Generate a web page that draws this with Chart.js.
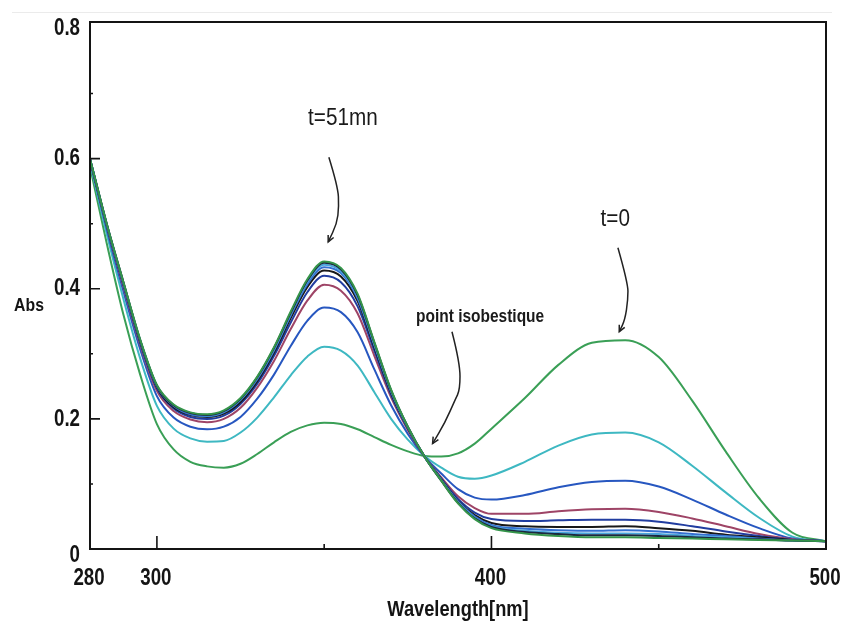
<!DOCTYPE html>
<html>
<head>
<meta charset="utf-8">
<script src="https://cdn.jsdelivr.net/npm/chart.js@4.4.1/dist/chart.umd.min.js"></script>
<style>
  html, body { margin: 0; padding: 0; background: #ffffff; }
  #wrap { position: relative; width: 842px; height: 626px; }
</style>
</head>
<body>
<div id="wrap"><canvas id="spectra" width="842" height="626"></canvas></div>
<script>
// Wavelength grid (nm)
const WAVELENGTH = [280,285,290,295,300,305,310,315,320,325,330,335,340,345,350,355,360,365,370,375,380,385,390,395,400,410,420,430,440,450,460,470,480,490,500];

// Absorbance spectra recorded during the reaction, from t = 0 to t = 51 mn
const ABS_SCAN_01 = [0.588,0.470,0.360,0.268,0.192,0.153,0.134,0.127,0.125,0.131,0.146,0.164,0.180,0.190,0.194,0.192,0.184,0.172,0.160,0.150,0.143,0.142,0.147,0.162,0.185,0.232,0.283,0.317,0.321,0.295,0.228,0.150,0.078,0.025,0.012];
const ABS_SCAN_02 = [0.594,0.484,0.384,0.293,0.220,0.185,0.170,0.165,0.166,0.179,0.202,0.233,0.267,0.296,0.311,0.305,0.282,0.241,0.200,0.168,0.143,0.125,0.111,0.108,0.113,0.134,0.159,0.176,0.179,0.164,0.128,0.087,0.048,0.019,0.012];
const ABS_SCAN_03 = [0.597,0.492,0.396,0.307,0.235,0.202,0.188,0.184,0.188,0.203,0.231,0.268,0.312,0.351,0.371,0.364,0.333,0.276,0.221,0.177,0.142,0.116,0.092,0.079,0.076,0.083,0.095,0.103,0.105,0.096,0.076,0.053,0.032,0.016,0.012];
const ABS_SCAN_04 = [0.598,0.496,0.403,0.314,0.243,0.212,0.199,0.195,0.200,0.217,0.248,0.289,0.338,0.382,0.406,0.397,0.362,0.297,0.233,0.183,0.142,0.110,0.081,0.063,0.054,0.054,0.058,0.061,0.062,0.057,0.047,0.035,0.023,0.015,0.012];
const ABS_SCAN_05 = [0.599,0.497,0.406,0.317,0.247,0.216,0.203,0.200,0.205,0.223,0.254,0.297,0.348,0.395,0.420,0.410,0.373,0.305,0.237,0.185,0.142,0.108,0.077,0.056,0.046,0.043,0.044,0.045,0.045,0.042,0.035,0.027,0.020,0.014,0.012];
const ABS_SCAN_06 = [0.599,0.498,0.407,0.319,0.249,0.218,0.206,0.203,0.208,0.226,0.258,0.302,0.355,0.403,0.428,0.419,0.381,0.310,0.240,0.186,0.142,0.107,0.074,0.052,0.040,0.035,0.034,0.034,0.035,0.032,0.028,0.022,0.018,0.014,0.012];
const ABS_SCAN_07 = [0.600,0.499,0.408,0.320,0.250,0.220,0.207,0.204,0.210,0.229,0.261,0.305,0.359,0.407,0.433,0.424,0.385,0.313,0.242,0.187,0.142,0.106,0.073,0.050,0.037,0.031,0.029,0.028,0.029,0.027,0.023,0.020,0.016,0.013,0.012];
const ABS_SCAN_08 = [0.600,0.499,0.409,0.321,0.251,0.221,0.209,0.205,0.211,0.230,0.263,0.307,0.361,0.411,0.437,0.427,0.388,0.315,0.243,0.187,0.142,0.106,0.072,0.048,0.035,0.028,0.025,0.024,0.024,0.023,0.020,0.018,0.015,0.013,0.012];
const ABS_SCAN_09 = [0.600,0.500,0.410,0.321,0.251,0.221,0.209,0.206,0.212,0.231,0.264,0.309,0.363,0.413,0.440,0.430,0.390,0.317,0.244,0.188,0.142,0.105,0.071,0.047,0.034,0.026,0.023,0.021,0.021,0.020,0.018,0.016,0.015,0.013,0.012];
const ABS_SCAN_10 = [0.600,0.500,0.410,0.322,0.252,0.222,0.210,0.207,0.213,0.232,0.265,0.310,0.365,0.415,0.442,0.432,0.392,0.318,0.245,0.188,0.142,0.105,0.070,0.046,0.032,0.024,0.020,0.018,0.018,0.017,0.016,0.015,0.014,0.013,0.012];

// Axis ticks
const X_TICK_LABELS = [280, 300, 400, 500];
const X_MAJOR_MARKS = [300, 400];
const X_MINOR_MARKS = [350, 450];
const Y_TICK_LABELS = [0, 0.2, 0.4, 0.6, 0.8];
const Y_MAJOR_MARKS = [0.2, 0.4, 0.6];
const Y_MINOR_MARKS = [0.1, 0.3, 0.5, 0.7];

const SANS = "'Liberation Sans', Arial, sans-serif";

// Scans, drawn last-to-first so the final scan sits on top of the bundle
const SCANS = [
  { name: 't=51mn', values: ABS_SCAN_10, color: '#35954a' },
  { name: 'scan 9', values: ABS_SCAN_09, color: '#1c2740' },
  { name: 'scan 8', values: ABS_SCAN_08, color: '#4aa6dc' },
  { name: 'scan 7', values: ABS_SCAN_07, color: '#346fd0' },
  { name: 'scan 6', values: ABS_SCAN_06, color: '#181818' },
  { name: 'scan 5', values: ABS_SCAN_05, color: '#213da0' },
  { name: 'scan 4', values: ABS_SCAN_04, color: '#9e4466' },
  { name: 'scan 3', values: ABS_SCAN_03, color: '#2757c0' },
  { name: 'scan 2', values: ABS_SCAN_02, color: '#3eb8c2' },
  { name: 't=0',    values: ABS_SCAN_01, color: '#3a9f56' }
];

// Annotation callouts, in data units (nm, Abs)
const CALLOUTS = [
  { text: 't=51mn', at: [355.6, 0.662], size: 23, weight: 'normal', squeeze: 0.9,
    path: [[351.4,0.602],[354.1,0.557],[354.4,0.526],[353.8,0.500],[351.2,0.472]] },
  { text: 't=0', at: [437.0, 0.506], size: 23, weight: 'normal', squeeze: 0.9,
    path: [[437.8,0.463],[440.8,0.409],[440.8,0.383],[439.9,0.352],[438.2,0.334]] },
  { text: 'point isobestique', at: [396.6, 0.357], size: 18, weight: 'bold', squeeze: 0.86,
    path: [[388.2,0.334],[390.6,0.286],[390.6,0.245],[389.1,0.229],[386.1,0.194],[382.4,0.162]] }
];

const datasets = SCANS.map(s => ({
  label: s.name,
  data: WAVELENGTH.map((w, i) => ({ x: w, y: s.values[i] })),
  borderColor: s.color,
  borderWidth: 2,
  pointRadius: 0,
  fill: false,
  cubicInterpolationMode: 'monotone'
}));

// Condensed text: a regular face squeezed horizontally
function narrowText(ctx, text, x, y, size, weight, squeeze, align) {
  ctx.save();
  ctx.translate(x, y);
  ctx.scale(squeeze, 1);
  ctx.font = `${weight} ${size}px ${SANS}`;
  ctx.textAlign = align;
  ctx.textBaseline = 'middle';
  ctx.fillText(text, 0, 0);
  ctx.restore();
}

const framePlugin = {
  id: 'frameAndNotes',
  afterDatasetsDraw(chart) {
    const { ctx, chartArea: a, scales: { x, y } } = chart;
    ctx.save();
    // plot frame
    ctx.strokeStyle = '#141414';
    ctx.lineWidth = 2;
    ctx.strokeRect(a.left, a.top, a.right - a.left, a.bottom - a.top);
    // inward tick marks
    ctx.lineWidth = 1.6;
    ctx.beginPath();
    Y_MAJOR_MARKS.forEach(v => { const p = y.getPixelForValue(v); ctx.moveTo(a.left, p); ctx.lineTo(a.left + 10, p); });
    Y_MINOR_MARKS.forEach(v => { const p = y.getPixelForValue(v); ctx.moveTo(a.left, p); ctx.lineTo(a.left + 3, p); });
    X_MAJOR_MARKS.forEach(v => { const p = x.getPixelForValue(v); ctx.moveTo(p, a.bottom); ctx.lineTo(p, a.bottom - 13); });
    X_MINOR_MARKS.forEach(v => { const p = x.getPixelForValue(v); ctx.moveTo(p, a.bottom); ctx.lineTo(p, a.bottom - 5); });
    ctx.stroke();

    // tick labels
    ctx.fillStyle = '#141414';
    Y_TICK_LABELS.forEach(v => {
      const label = v === 0 ? '0' : v.toFixed(1);
      const dy = v === 0 ? 6 : 0;
      narrowText(ctx, label, a.left - 10, y.getPixelForValue(v) + dy, 24, 'bold', 0.78, 'right');
    });
    X_TICK_LABELS.forEach(v => {
      narrowText(ctx, String(v), x.getPixelForValue(v) - 1, a.bottom + 29, 24, 'bold', 0.78, 'center');
    });

    // axis names
    narrowText(ctx, 'Wavelength[nm]', (a.left + a.right) / 2, 610, 22, 'bold', 0.83, 'center');
    narrowText(ctx, 'Abs', 29, 306, 19, 'bold', 0.83, 'center');

    // callouts
    CALLOUTS.forEach(c => {
      ctx.fillStyle = '#1a1a1a';
      narrowText(ctx, c.text, x.getPixelForValue(c.at[0]), y.getPixelForValue(c.at[1]), c.size, c.weight, c.squeeze, 'center');

      const pts = c.path.map(p => [x.getPixelForValue(p[0]), y.getPixelForValue(p[1])]);
      ctx.strokeStyle = '#222';
      ctx.lineWidth = 1.5;
      ctx.beginPath();
      ctx.moveTo(pts[0][0], pts[0][1]);
      for (let i = 1; i < pts.length - 1; i++) {
        const mx = (pts[i][0] + pts[i + 1][0]) / 2, my = (pts[i][1] + pts[i + 1][1]) / 2;
        ctx.quadraticCurveTo(pts[i][0], pts[i][1], mx, my);
      }
      const last = pts[pts.length - 1], prev = pts[pts.length - 2];
      ctx.lineTo(last[0], last[1]);
      ctx.stroke();
      // arrow head
      const ang = Math.atan2(last[1] - prev[1], last[0] - prev[0]);
      const L = 7;
      ctx.beginPath();
      ctx.moveTo(last[0] - L * Math.cos(ang - 0.45), last[1] - L * Math.sin(ang - 0.45));
      ctx.lineTo(last[0], last[1]);
      ctx.lineTo(last[0] - L * Math.cos(ang + 0.45), last[1] - L * Math.sin(ang + 0.45));
      ctx.stroke();
    });

    // faint scan edge along the top
    ctx.strokeStyle = 'rgba(0,0,0,0.08)';
    ctx.lineWidth = 1;
    ctx.beginPath();
    ctx.moveTo(12, 12.5); ctx.lineTo(832, 12.5);
    ctx.stroke();
    ctx.restore();
  }
};

new Chart(document.getElementById('spectra'), {
  type: 'line',
  data: { datasets },
  plugins: [framePlugin],
  options: {
    responsive: false,
    devicePixelRatio: 1,
    animation: false,
    events: [],
    layout: { padding: { top: 22, right: 16, left: 0, bottom: 0 } },
    plugins: { legend: { display: false }, tooltip: { enabled: false } },
    scales: {
      x: {
        type: 'linear', min: 280, max: 500,
        grid: { display: false, drawTicks: false },
        border: { display: false },
        ticks: { display: false },
        afterFit: s => { s.height = 77; s.paddingLeft = 0; s.paddingRight = 0; }
      },
      y: {
        type: 'linear', min: 0, max: 0.81,
        grid: { display: false, drawTicks: false },
        border: { display: false },
        ticks: { display: false },
        afterFit: s => { s.width = 90; s.paddingTop = 0; s.paddingBottom = 0; }
      }
    }
  }
});
</script>
</body>
</html>
